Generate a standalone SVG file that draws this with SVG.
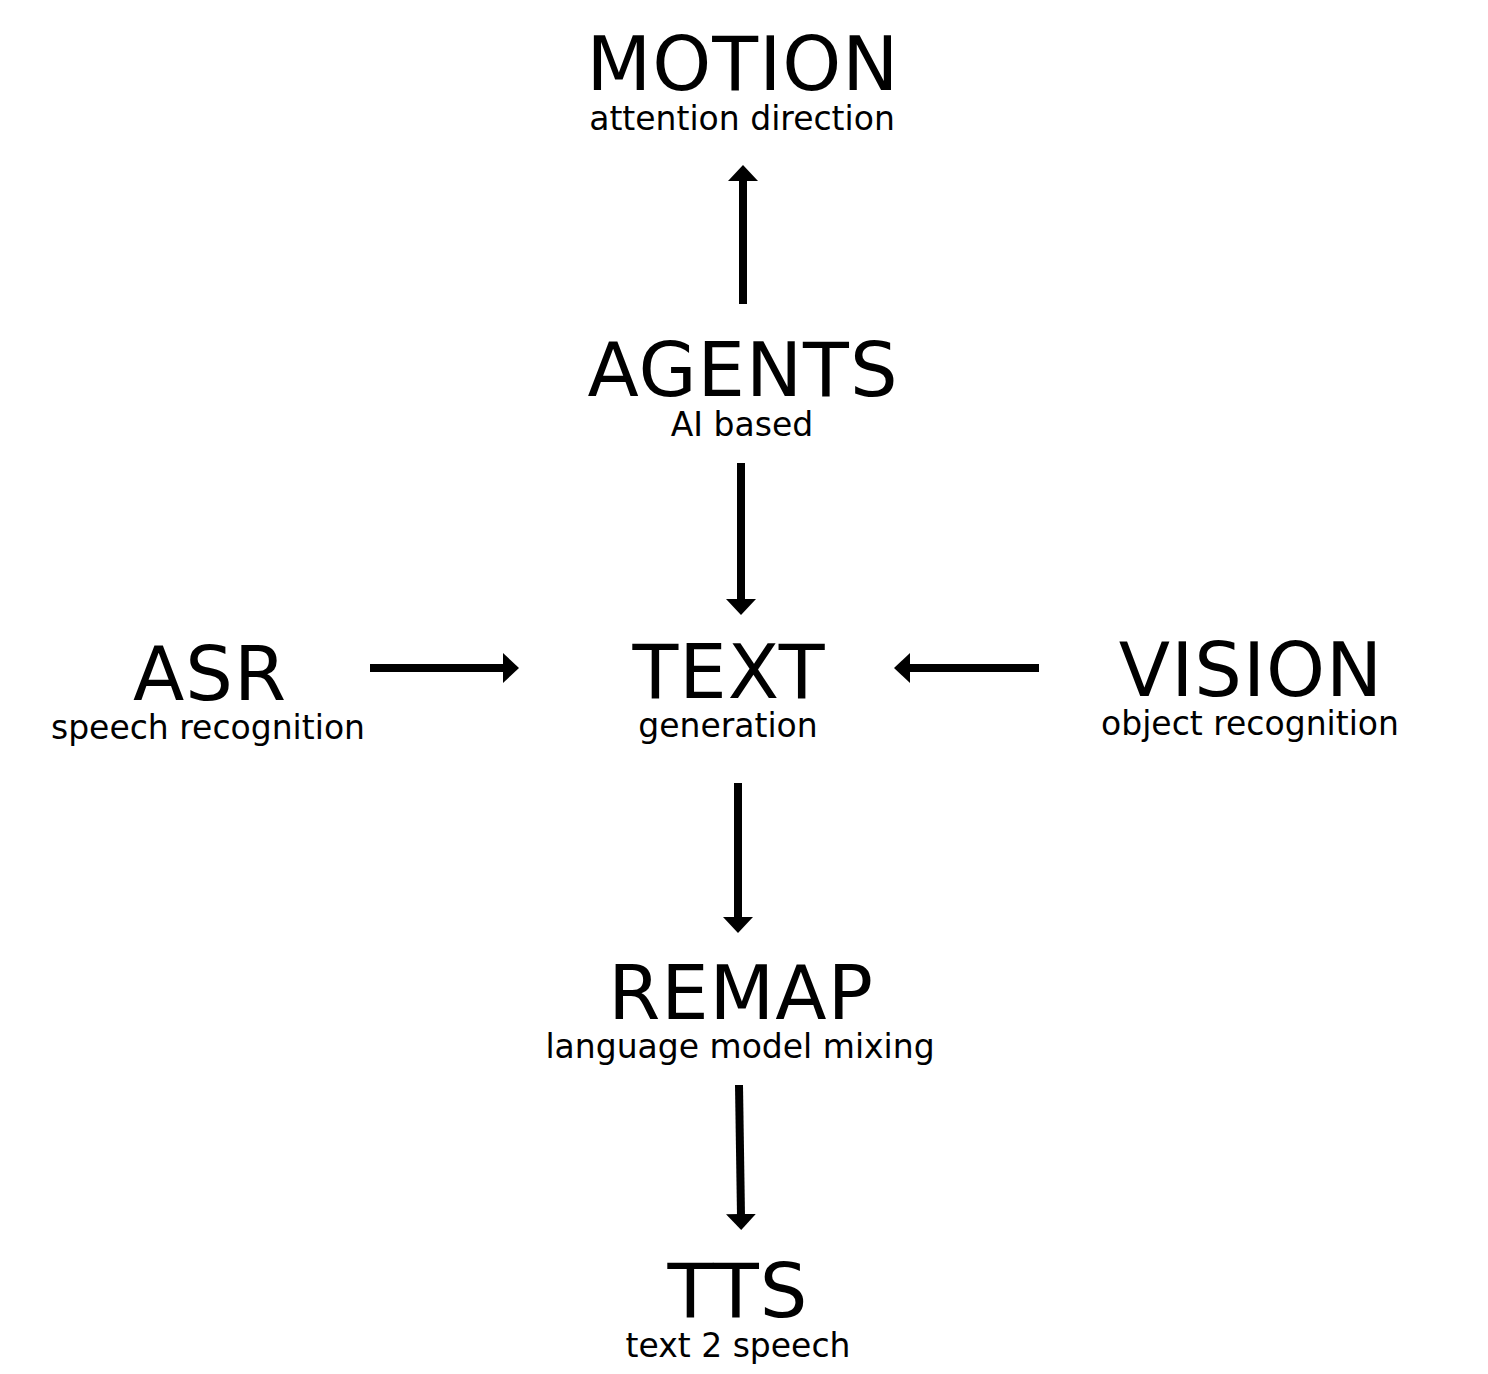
<svg xmlns="http://www.w3.org/2000/svg" width="1488" height="1374" viewBox="0 0 1488 1374">
<style>
.t{font-family:"DejaVu Sans",Verdana,sans-serif;font-size:75px;fill:#000;text-anchor:middle;letter-spacing:1px}
.s{font-family:"DejaVu Sans",Verdana,sans-serif;font-size:33px;fill:#000;text-anchor:middle}
.c{stroke:#000;stroke-width:8;fill:none;marker-end:url(#ah)}
</style>
<defs>
<marker id="ah" viewBox="0 0 16 30" refX="2" refY="15" markerWidth="16" markerHeight="30" markerUnits="userSpaceOnUse" orient="auto">
<path d="M0,0 L16,15 L0,30 Z" fill="#000"/>
</marker>
</defs>
<rect width="1488" height="1374" fill="#fff"/>
<g id="motion"><text class="t" x="743" y="90">MOTION</text><text class="s" x="742" y="130">attention direction</text></g>
<g id="agents"><text class="t" x="743" y="396">AGENTS</text><text class="s" x="742" y="436">AI based</text></g>
<g id="asr"><text class="t" x="210" y="700">ASR</text><text class="s" x="208" y="739">speech recognition</text></g>
<g id="text"><text class="t" x="729" y="698">TEXT</text><text class="s" x="728" y="737">generation</text></g>
<g id="vision"><text class="t" x="1251" y="696" letter-spacing="4">VISION</text><text class="s" x="1250" y="735">object recognition</text></g>
<g id="remap"><text class="t" x="741" y="1019">REMAP</text><text class="s" x="740" y="1058">language model mixing</text></g>
<g id="tts"><text class="t" x="738" y="1317">TTS</text><text class="s" x="738" y="1357">text 2 speech</text></g>
<g id="connectors">
<line class="c" x1="743" y1="304" x2="743" y2="179"/>
<line class="c" x1="741" y1="463" x2="741" y2="601"/>
<line class="c" x1="370" y1="668" x2="505" y2="668"/>
<line class="c" x1="1039" y1="668" x2="908" y2="668"/>
<line class="c" x1="738" y1="783" x2="738" y2="919"/>
<line class="c" x1="739" y1="1085" x2="741" y2="1216"/>
</g>
</svg>
